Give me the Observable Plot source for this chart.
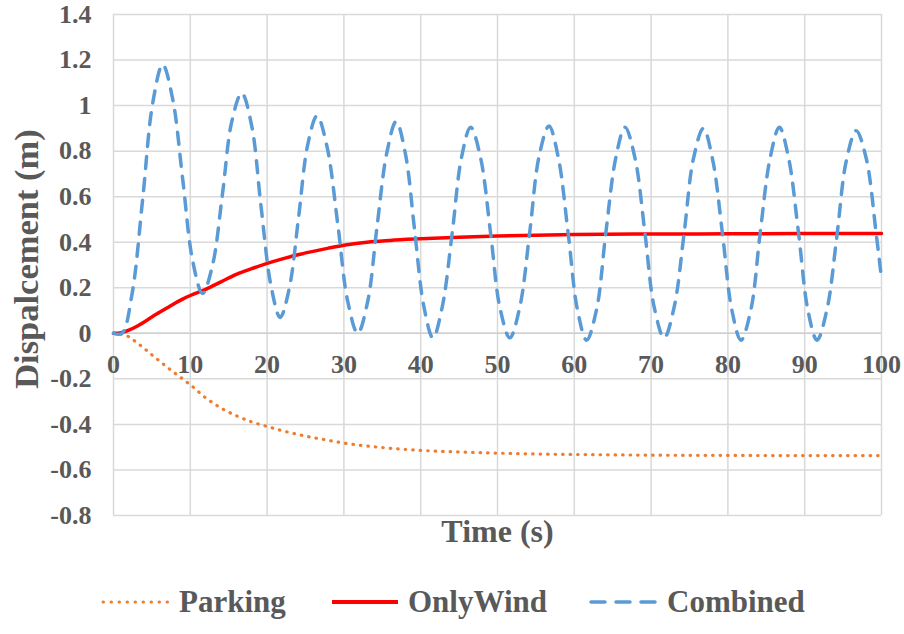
<!DOCTYPE html>
<html>
<head>
<meta charset="utf-8">
<script src="https://cdn.jsdelivr.net/npm/d3@7"></script>
<script src="https://cdn.jsdelivr.net/npm/@observablehq/plot@0.6"></script>
<style>
  body { margin: 0; background: #fff; }
  #chart { width: 904px; font-family: "Liberation Serif", "Times New Roman", serif; }
  #legend { position: relative; width: 904px; height: 64px; }
  .item { position: absolute; top: 0; height: 64px; display: flex; align-items: center;
          font-family: "Liberation Serif", "Times New Roman", serif; font-weight: bold;
          font-size: 31px; color: #595959; }
  .item svg { margin-right: 8px; }
</style>
</head>
<body>
<div id="chart"></div>
<script>
// Tick values
const xTicks = [0, 10, 20, 30, 40, 50, 60, 70, 80, 90, 100];
const yTicks = [-0.8, -0.6, -0.4, -0.2, 0, 0.2, 0.4, 0.6, 0.8, 1, 1.2, 1.4];

// Parking response (time in s, displacement in m)
const parkingTime = [0, 1, 2, 3, 4, 5, 6, 7, 8, 9, 10, 12, 14, 16, 18, 20, 22, 24, 26, 28, 30, 33, 36, 40, 45, 50, 55, 60, 70, 80, 90, 100];
const parkingDisp = [0, -0.003, -0.015, -0.04, -0.066, -0.095, -0.122, -0.149, -0.175, -0.2, -0.226, -0.283, -0.328, -0.362, -0.389, -0.409, -0.428, -0.444, -0.458, -0.47, -0.482, -0.495, -0.505, -0.514, -0.521, -0.526, -0.53, -0.532, -0.535, -0.536, -0.537, -0.537];

// Wind-only response
const windTime = [0, 1, 2, 3, 4, 5, 6, 7, 8, 9, 10, 12, 14, 16, 18, 20, 22, 24, 26, 28, 30, 33, 36, 40, 45, 50, 55, 60, 70, 80, 90, 100];
const windDisp = [0, 0.003, 0.014, 0.03, 0.05, 0.072, 0.092, 0.112, 0.132, 0.15, 0.166, 0.193, 0.226, 0.259, 0.284, 0.307, 0.327, 0.345, 0.36, 0.374, 0.387, 0.4, 0.408, 0.415, 0.422, 0.427, 0.431, 0.434, 0.436, 0.437, 0.438, 0.438];

// Combined wind + wave response
const combinedTime = [0, 1.1, 2.4, 3.8, 5.1, 6.4, 7.7, 9.0, 10.3, 11.6, 12.9, 14.2, 15.4, 16.7, 18.0, 19.2, 20.5, 21.7, 22.9, 24.1, 25.3, 26.5, 27.8, 29.2, 30.5, 31.8, 33.1, 34.3, 35.6, 36.8, 38.0, 39.2, 40.4, 41.6, 42.8, 44.1, 45.3, 46.5, 47.8, 49.1, 50.3, 51.6, 52.9, 54.2, 55.4, 56.7, 57.9, 59.2, 60.4, 61.6, 62.9, 64.1, 65.4, 66.6, 67.9, 69.2, 70.4, 71.7, 73.0, 74.3, 75.5, 76.8, 78.0, 79.3, 80.5, 81.7, 83.0, 84.2, 85.5, 86.7, 87.9, 89.2, 90.4, 91.6, 92.9, 94.2, 95.4, 96.7, 98.0, 99.3, 100];
const combinedDisp = [0, 0.0, 0.17, 0.59, 1.01, 1.18, 1.03, 0.68, 0.32, 0.175, 0.30, 0.615, 0.93, 1.055, 0.91, 0.56, 0.21, 0.07, 0.2, 0.51, 0.83, 0.955, 0.82, 0.48, 0.14, 0.0, 0.14, 0.465, 0.795, 0.93, 0.79, 0.455, 0.12, -0.02, 0.115, 0.44, 0.77, 0.905, 0.77, 0.44, 0.115, -0.02, 0.115, 0.445, 0.775, 0.91, 0.775, 0.44, 0.105, -0.03, 0.105, 0.44, 0.77, 0.905, 0.77, 0.44, 0.115, -0.02, 0.115, 0.44, 0.765, 0.9, 0.765, 0.435, 0.105, -0.03, 0.105, 0.44, 0.77, 0.905, 0.77, 0.44, 0.105, -0.03, 0.105, 0.43, 0.755, 0.89, 0.77, 0.44, 0.24];

const seriesNames = ["Parking", "OnlyWind", "Combined"];
const seriesColors = ["#ED7D31", "#FF0000", "#5B9BD5"];

const toRows = (ts, vs) => ts.map((t, i) => ({t, v: vs[i]}));
const parking = toRows(parkingTime, parkingDisp);
const wind = toRows(windTime, windDisp);
const combined = toRows(combinedTime, combinedDisp);

const fmt = d => { const s = String(+d.toFixed(1)); return s === "-0" ? "0" : s; };
const textColor = "#595959";
const gridColor = "#D9D9D9";

const chart = Plot.plot({
  width: 904,
  height: 570,
  marginLeft: 113,
  marginRight: 23,
  marginTop: 14,
  marginBottom: 55,
  style: {fontFamily: '"Liberation Serif", "Times New Roman", serif', fontWeight: "bold", color: textColor, background: "#fff", overflow: "visible"},
  x: {domain: [0, 100]},
  y: {domain: [-0.8, 1.4]},
  marks: [
    Plot.gridX(xTicks, {stroke: gridColor, strokeOpacity: 1, strokeWidth: 1.5}),
    Plot.gridY(yTicks, {stroke: gridColor, strokeOpacity: 1, strokeWidth: 1.5}),
    Plot.ruleY([0], {stroke: "#CFCFCF", strokeWidth: 1.6}),
    Plot.axisY(yTicks, {tickSize: 0, tickPadding: 22, fontSize: 26, tickFormat: fmt, label: null, fill: textColor}),
    Plot.axisX({ticks: [], label: null, tickSize: 0}),
    // x tick labels sit just under the zero line
    Plot.text(xTicks, {x: d => d, y: () => 0, dy: 31, text: d => String(d), fontSize: 26, fill: textColor}),
    Plot.text(["Time (s)"], {frameAnchor: "bottom", dy: 26, fontSize: 32, fill: textColor}),
    Plot.text(["Dispalcement (m)"], {frameAnchor: "left", textAnchor: "middle", dx: -87, dy: -6, rotate: -90, fontSize: 34.5, fill: textColor}),
    Plot.line(parking, {x: "t", y: "v", curve: "monotone-x", stroke: seriesColors[0], strokeWidth: 3.2, strokeDasharray: "0.5,7", strokeLinecap: "round"}),
    Plot.line(wind, {x: "t", y: "v", curve: "monotone-x", stroke: seriesColors[1], strokeWidth: 3.5}),
    Plot.line(combined, {x: "t", y: "v", curve: "catmull-rom", stroke: seriesColors[2], strokeWidth: 3.5, strokeDasharray: "12,10", strokeLinecap: "round"})
  ]
});
document.getElementById("chart").appendChild(chart);

// Legend row under the chart
const legend = document.createElement("div");
legend.id = "legend";
const lefts = [101, 330, 589];
const dashes = ["0.5,7.5", null, "14,11"];
const widths = [3, 4, 3.5];
seriesNames.forEach((name, i) => {
  const item = document.createElement("div");
  item.className = "item";
  item.style.left = lefts[i] + "px";
  const ns = "http://www.w3.org/2000/svg";
  const svg = document.createElementNS(ns, "svg");
  svg.setAttribute("width", 70);
  svg.setAttribute("height", 10);
  const ln = document.createElementNS(ns, "line");
  ln.setAttribute("x1", 2); ln.setAttribute("x2", 68);
  ln.setAttribute("y1", 5); ln.setAttribute("y2", 5);
  ln.setAttribute("stroke", seriesColors[i]);
  ln.setAttribute("stroke-width", widths[i]);
  if (dashes[i]) { ln.setAttribute("stroke-dasharray", dashes[i]); ln.setAttribute("stroke-linecap", "round"); }
  svg.appendChild(ln);
  item.appendChild(svg);
  const span = document.createElement("span");
  span.textContent = name;
  item.appendChild(span);
  legend.appendChild(item);
});
document.body.appendChild(legend);
</script>
</body>
</html>
